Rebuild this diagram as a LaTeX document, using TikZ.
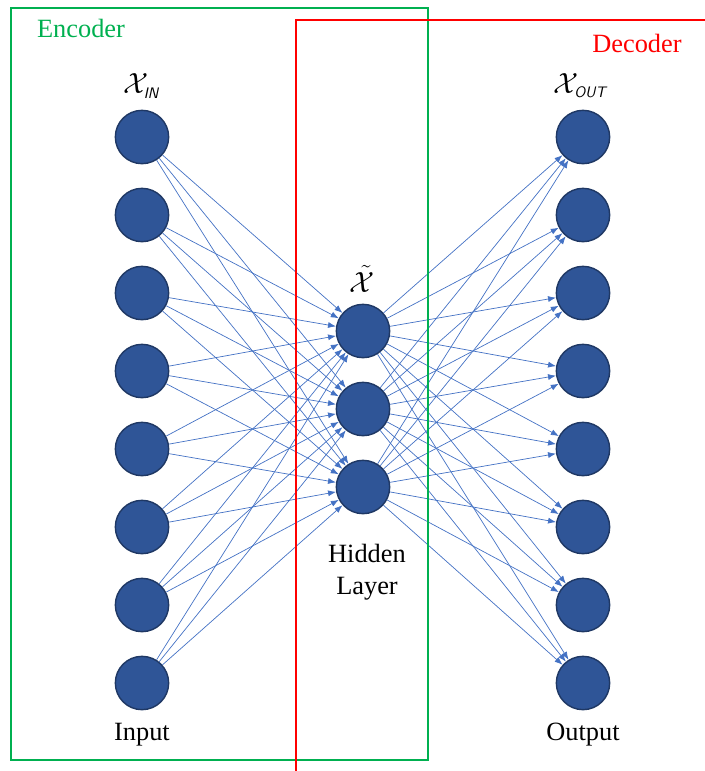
\documentclass[tikz,border=0pt]{standalone}
\usepackage{fontspec}
\setmainfont{Liberation Serif}
\usetikzlibrary{arrows.meta}
\definecolor{unitfill}{RGB}{47,85,151}
\definecolor{unitdraw}{RGB}{31,56,100}
\definecolor{linkblue}{RGB}{68,114,196}
\definecolor{encgreen}{RGB}{0,176,80}
\newcommand{\subtag}[1]{\hbox{\fontsize{13}{13}\selectfont\sffamily\itshape #1}}
\begin{document}
\begin{tikzpicture}[x=0.03cm,y=-0.03cm,
  unit/.style={circle,draw=unitdraw,fill=unitfill,line width=1.2pt,minimum size=1.6cm,inner sep=0pt},
  link/.style={draw=linkblue,line width=0.6pt,-{Latex[length=2.4mm,width=1.8mm]}},
  caption/.style={font=\fontsize{22.5}{27}\selectfont},
  symbol/.style={font=\fontsize{23}{26}\selectfont}]
\useasboundingbox (0,0) rectangle (705,771);

% layers
\foreach \i in {1,...,8} \node[unit] (in\i) at (142,{59+78*\i}) {};
\foreach \j in {1,2,3} \node[unit] (hid\j) at (363,{253+78*\j}) {};
\foreach \i in {1,...,8} \node[unit] (out\i) at (583,{59+78*\i}) {};

% connections
\foreach \i in {1,...,8}
  \foreach \j in {1,2,3} {
    \draw[link] (in\i) -- (hid\j);
    \draw[link] (hid\j) -- (out\i);
  }

% labels
\node[symbol] (xin) at (141,86) {$\mathcal{X}_{\subtag{IN}}$};
\node[symbol] (xout) at (580,86) {$\mathcal{X}_{\subtag{OUT}}$};
\node[symbol] (xhid) at (362,279) {$\tilde{\mathcal{X}}$};
\node[caption,align=center] (hidtxt) at (367,572) {Hidden\\Layer};
\node[caption] (intxt) at (142,735) {Input};
\node[caption] (outtxt) at (583,735) {Output};

% encoder / decoder frames
\draw[encgreen,line width=1.6pt] (11,8) rectangle (428,760);
\draw[red,line width=1.6pt] (705,20) -- (296,20) -- (296,771);
\node[caption,text=encgreen] (enc) at (81,28) {Encoder};
\node[caption,text=red] (dec) at (637,43) {Decoder};
\end{tikzpicture}
\end{document}
